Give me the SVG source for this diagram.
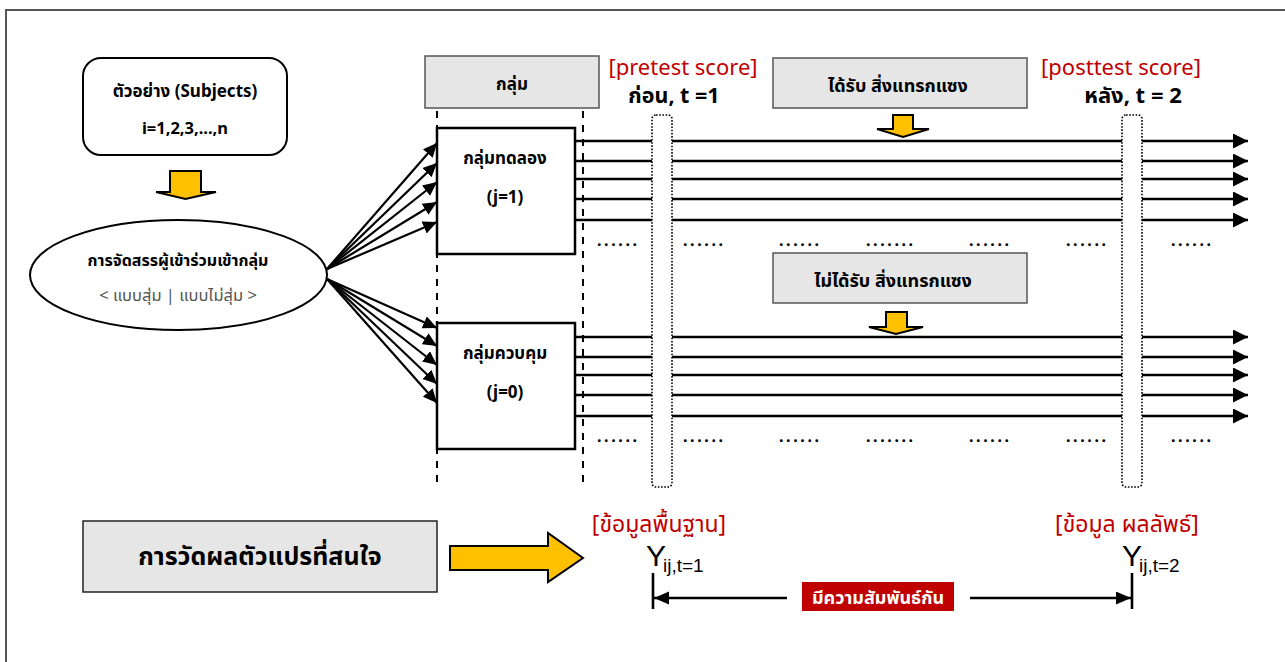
<svg xmlns="http://www.w3.org/2000/svg" width="1285" height="662" viewBox="0 0 1285 662">
<style>
text{font-family:"Noto Sans","Noto Sans Thai","Liberation Sans",sans-serif;fill:#000}
.b{font-weight:bold}
.c{text-anchor:middle}
.red{fill:#C00000}
.gbox{fill:#E6E6E6;stroke:#555;stroke-width:1.5}
.wbox{fill:#fff;stroke:#000;stroke-width:2.5}
.yel{fill:#FFC000;stroke:#000;stroke-width:2}
.dash{stroke:#000;stroke-width:2;stroke-dasharray:7,7;fill:none}
.pillar{fill:none;stroke:#000;stroke-width:1.6;stroke-dasharray:1.6,1.6}
.ln{stroke:#000;stroke-width:2.6;fill:none}
.fan{stroke:#000;stroke-width:2.2;fill:none}
.dots{font-weight:bold;font-size:16px;letter-spacing:2.6px}
.ys{font-family:"Liberation Sans",sans-serif}
</style>
<defs>
<marker id="ah" markerUnits="userSpaceOnUse" markerWidth="16" markerHeight="16" refX="15" refY="7.5" orient="auto"><path d="M0,0 L15,7.5 L0,15 z" fill="#000"/></marker>
<marker id="fh" markerUnits="userSpaceOnUse" markerWidth="16" markerHeight="14" refX="14" refY="6.5" orient="auto"><path d="M0,0 L14,6.5 L0,13 z" fill="#000"/></marker>
<marker id="sh" markerUnits="userSpaceOnUse" markerWidth="16" markerHeight="14" refX="15" refY="6.5" orient="auto"><path d="M0,0 L15,6.5 L0,13 z" fill="#000"/></marker>
</defs>
<rect x="6" y="10" width="1290" height="662" fill="#fff" stroke="#555" stroke-width="2"/>

<g id="subjects">
<rect x="83" y="58" width="204" height="97" rx="18" fill="#fff" stroke="#000" stroke-width="2"/>
<text x="185" y="97" class="b c" font-size="17">ตัวอย่าง (Subjects)</text>
<text x="185" y="134" class="b c" font-size="16.5">i=1,2,3,...,n</text>
</g>
<g id="arrow-down-1"><path class="yel" d="M170,171 L201,171 L201,192 L216,192 L185.5,199 L156,192 L170,192 z"/></g>
<g id="allocation">
<ellipse cx="178.5" cy="275" rx="148.5" ry="55" fill="#fff" stroke="#000" stroke-width="2"/>
<text x="178" y="266" class="b c" font-size="16">การจัดสรรผู้เข้าร่วมเข้ากลุ่ม</text>
<text x="178" y="301" class="c" font-size="16.5" style="fill:#555">&lt; แบบสุ่ม | แบบไม่สุ่ม &gt;</text>
</g>
<g id="group-header">
<rect class="gbox" x="425" y="56" width="174" height="52"/>
<text x="512" y="90" class="b c" font-size="17">กลุ่ม</text>
</g>
<g id="dashed-lines">
<line class="dash" x1="437" y1="111" x2="437" y2="486"/>
<line class="dash" x1="583" y1="111" x2="583" y2="486"/>
</g>
<g id="experimental">
<rect class="wbox" x="437" y="128" width="138" height="126"/>
<text x="505" y="164" class="b c" font-size="17">กลุ่มทดลอง</text>
<text x="505" y="203" class="b c" font-size="17">(j=1)</text>
</g>
<g id="control">
<rect class="wbox" x="437" y="323" width="138" height="126"/>
<text x="505" y="359" class="b c" font-size="17">กลุ่มควบคุม</text>
<text x="505" y="398" class="b c" font-size="17">(j=0)</text>
</g>
<g id="pretest-label">
<text x="683" y="75" class="c red" font-size="22">[pretest score]</text>
<text x="674" y="103" class="b c" font-size="21.5">ก่อน, t =1</text>
</g>
<g id="posttest-label">
<text x="1121" y="75" class="c red" font-size="22">[posttest score]</text>
<text x="1133" y="103" class="b c" font-size="22">หลัง, t = 2</text>
</g>
<g id="treatment">
<rect class="gbox" x="773" y="58" width="254" height="50"/>
<text x="898" y="92" class="b c" font-size="18">ได้รับ สิ่งแทรกแซง</text>
<path class="yel" d="M893,115 L913,115 L913,129 L929,129 L903,137 L877,129 L893,129 z"/>
</g>
<g id="no-treatment">
<rect class="gbox" x="773" y="253" width="254" height="50"/>
<text x="893" y="287" class="b c" font-size="18">ไม่ได้รับ สิ่งแทรกแซง</text>
<path class="yel" d="M886,312 L907,312 L907,327 L923,327 L896,334 L869,327 L886,327 z"/>
</g>
<g id="pillar-t1"><rect class="pillar" x="652" y="115" width="20" height="372" rx="4"/></g>
<g id="pillar-t2"><rect class="pillar" x="1122" y="115" width="20" height="372" rx="4"/></g>

<g id="connectors">
<g class="fan" marker-end="url(#fh)">
<line x1="327" y1="269" x2="437" y2="143"/>
<line x1="327" y1="269" x2="437" y2="163"/>
<line x1="327" y1="269" x2="437" y2="182"/>
<line x1="327" y1="269" x2="437" y2="202"/>
<line x1="327" y1="269" x2="437" y2="222"/>
<line x1="327" y1="279" x2="437" y2="328"/>
<line x1="327" y1="279" x2="437" y2="346"/>
<line x1="327" y1="279" x2="437" y2="365"/>
<line x1="327" y1="279" x2="437" y2="384"/>
<line x1="327" y1="279" x2="437" y2="403"/>
</g>
<g class="ln">
<path d="M575,141H652M672,141H1122M575,161H652M672,161H1122M575,179H652M672,179H1122M575,199H652M672,199H1122M575,220H652M672,220H1122"/>
<path d="M575,337H652M672,337H1122M575,357H652M672,357H1122M575,375H652M672,375H1122M575,395H652M672,395H1122M575,416H652M672,416H1122"/>
</g>
<g class="ln" marker-end="url(#ah)">
<line x1="1142" y1="141" x2="1248" y2="141"/>
<line x1="1142" y1="161" x2="1248" y2="161"/>
<line x1="1142" y1="179" x2="1248" y2="179"/>
<line x1="1142" y1="199" x2="1248" y2="199"/>
<line x1="1142" y1="220" x2="1248" y2="220"/>
<line x1="1142" y1="337" x2="1248" y2="337"/>
<line x1="1142" y1="357" x2="1248" y2="357"/>
<line x1="1142" y1="375" x2="1248" y2="375"/>
<line x1="1142" y1="395" x2="1248" y2="395"/>
<line x1="1142" y1="416" x2="1248" y2="416"/>
</g>
<g stroke="#000" stroke-width="2.6" fill="none">
<line x1="653" y1="573" x2="653" y2="609"/>
<line x1="1132" y1="573" x2="1132" y2="609"/>
<line x1="787" y1="598" x2="654" y2="598" marker-end="url(#sh)"/>
<line x1="970" y1="598" x2="1131" y2="598" marker-end="url(#sh)"/>
</g>
</g>

<g id="dots">
<text class="dots" x="597" y="246">......</text>
<text class="dots" x="683" y="246">......</text>
<text class="dots" x="779" y="246">......</text>
<text class="dots" x="866" y="246">.......</text>
<text class="dots" x="969" y="246">......</text>
<text class="dots" x="1066" y="246">......</text>
<text class="dots" x="1171" y="246">......</text>
<text class="dots" x="597" y="442">......</text>
<text class="dots" x="683" y="442">......</text>
<text class="dots" x="779" y="442">......</text>
<text class="dots" x="866" y="442">.......</text>
<text class="dots" x="969" y="442">......</text>
<text class="dots" x="1066" y="442">......</text>
<text class="dots" x="1171" y="442">......</text>
</g>

<g id="measure">
<rect class="gbox" x="83" y="521" width="354" height="71" style="stroke:#222"/>
<text x="260" y="565" class="b c" font-size="25">การวัดผลตัวแปรที่สนใจ</text>
</g>
<g id="big-arrow"><path class="yel" d="M450,546 L548,546 L548,533 L583,558 L548,582 L548,570 L450,570 z"/></g>
<g id="baseline">
<text x="659" y="532" class="c red" font-size="23">[ข้อมูลพื้นฐาน]</text>
<text x="646" y="566" font-size="30" class="ys">Y</text>
<text x="663" y="572" font-size="19" class="ys">ij,t=1</text>
</g>
<g id="outcome">
<text x="1127" y="532" class="c red" font-size="23">[ข้อมูล ผลลัพธ์]</text>
<text x="1122" y="566" font-size="30" class="ys">Y</text>
<text x="1139" y="572" font-size="19" class="ys">ij,t=2</text>
</g>
<g id="relation">
<rect x="802" y="582" width="152" height="29" fill="#C00000"/>
<text x="878" y="604" class="b c" font-size="18" style="fill:#fff">มีความสัมพันธ์กัน</text>
</g>
</svg>
